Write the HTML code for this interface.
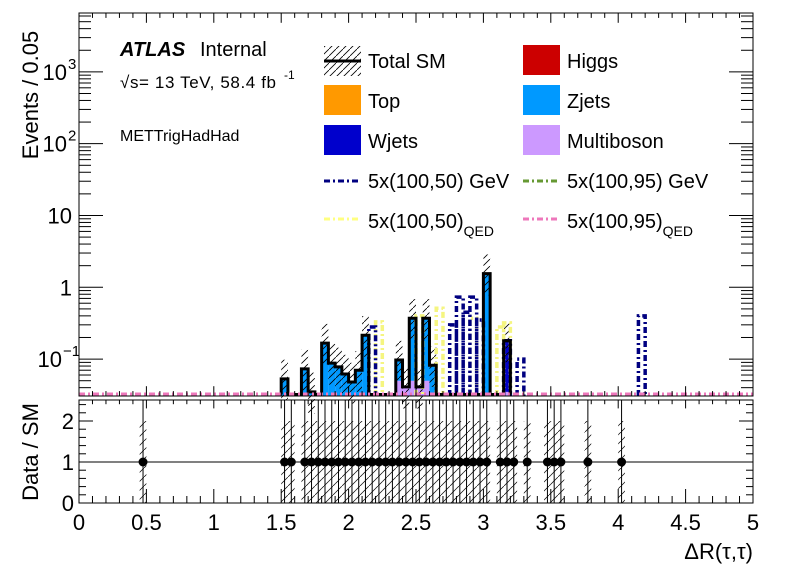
<!DOCTYPE html>
<html><head><meta charset="utf-8"><style>
html,body{margin:0;padding:0;background:#fff;}
svg{display:block;font-family:"Liberation Sans",Arial,sans-serif;}
</style></head><body>
<svg id="c" width="796" height="572" viewBox="0 0 796 572">
<defs>
<pattern id="hatch" patternUnits="userSpaceOnUse" width="7" height="7">
<line x1="0" y1="7" x2="7" y2="0" stroke="#000" stroke-width="0.8"/>
</pattern>
<pattern id="hatch2" patternUnits="userSpaceOnUse" width="9" height="9">
<line x1="0" y1="9" x2="9" y2="0" stroke="#000" stroke-width="0.7"/>
</pattern>
</defs>
<g id="main"></g>
<g id="ratio"></g>
<g id="axes"></g>
<text transform="rotate(-90 31 95)" x="31" y="102" font-size="22" text-anchor="middle">Events / 0.05</text>
<text transform="rotate(-90 31 452)" x="31" y="459" font-size="22" text-anchor="middle">Data / SM</text>
<text x="753" y="559" font-size="22" text-anchor="end">ΔR(τ,τ)</text>
<g>
<text x="120" y="56" font-size="20" font-weight="bold" font-style="italic">ATLAS</text>
<text x="200" y="56" font-size="20">Internal</text>
<text x="120" y="88" font-size="17" textLength="156">√s= 13 TeV, 58.4 fb</text>
<text x="284" y="79" font-size="12">-1</text>
<text x="120" y="141" font-size="16">METTrigHadHad</text>
</g>
<g id="legend" font-size="20">
<g><rect x="324" y="46" width="37" height="30" fill="url(#hatch)"/><line x1="324" y1="61" x2="361" y2="61" stroke="#000" stroke-width="3"/><text x="368" y="68">Total SM</text></g>
<g><rect x="523" y="45" width="37" height="30" fill="#cc0000"/><text x="567" y="68">Higgs</text></g>
<g><rect x="324" y="85" width="37" height="30" fill="#ff9900"/><text x="368" y="108">Top</text></g>
<g><rect x="523" y="85" width="37" height="30" fill="#0099ff"/><text x="567" y="108">Zjets</text></g>
<g><rect x="324" y="125" width="37" height="30" fill="#0000cc"/><text x="368" y="148">Wjets</text></g>
<g><rect x="523" y="125" width="37" height="30" fill="#cc99ff"/><text x="567" y="148">Multiboson</text></g>
<g><line x1="324" y1="181" x2="358" y2="181" stroke="#000080" stroke-width="3" stroke-dasharray="6,3,2,3"/><text x="368" y="188">5x(100,50) GeV</text></g>
<g><line x1="523" y1="181" x2="557" y2="181" stroke="#669933" stroke-width="3" stroke-dasharray="6,3,2,3"/><text x="567" y="188">5x(100,95) GeV</text></g>
<g><line x1="324" y1="219" x2="358" y2="219" stroke="#ffff80" stroke-width="3" stroke-dasharray="6,3,2,3"/><text x="368" y="228">5x(100,50)<tspan font-size="14" dy="8">QED</tspan></text></g>
<g><line x1="523" y1="219" x2="557" y2="219" stroke="#ee77bb" stroke-width="3" stroke-dasharray="6,3,2,3"/><text x="567" y="228">5x(100,95)<tspan font-size="14" dy="8">QED</tspan></text></g>
</g>
</svg>
<script>
// contiguous bins starting at 1.50, width 0.05
const binStart = 1.50;
const totalSM =    [0.053,0,0,0.073,0.035,0,0.167,0.088,0.078,0.062,0.048,0.070,0.215,0,0,0,0,0.097,0.041,0.37,0.041,0.37,0.082,0,0,0,0,0,0,0,1.55,0,0,0.18];
const multiboson = [0,0,0,0,0,0,0,0,0,0,0,0,0,0,0,0,0,0.05,0.041,0.05,0.041,0.05,0,0,0,0,0,0,0,0,0,0,0,0.035];
const wjets =      [0,0,0,0,0,0,0,0,0,0,0,0,0,0,0,0,0,0,0,0,0,0,0,0,0,0,0,0,0,0,0,0,0,0.18];
const sig5050Low = [2.15,2.75,2.80,2.85,2.90,2.95,3.15,3.25,4.15];
const sig5050 = [0.28,0.30,0.73,0.45,0.73,0.35,0.18,0.10,0.40];
const sigQEDLow = [2.20,2.50,2.65,2.90,3.10,3.15];
const sigQED = [0.33,0.40,0.51,0.37,0.28,0.32];
const dataX = [0.475,1.525,1.575,1.675,1.725,1.775,1.825,1.875,1.925,1.975,2.025,2.075,2.125,2.175,2.225,2.275,2.325,2.375,2.425,2.475,2.525,2.575,2.625,2.675,2.725,2.775,2.825,2.875,2.925,2.975,3.025,3.125,3.175,3.225,3.325,3.475,3.525,3.575,3.775,4.025];
const ratioVal = [1,1,1,1,1,1,1,1,1,1,1,1,1,1,1,1,1,1,1,1,1,1,1,1,1,1,1,1,1,1,1,1,1,1,1,1,1,1,1,1];
const xTicks = [0,0.5,1,1.5,2,2.5,3,3.5,4,4.5,5];
const xTickLabels = ["0","0.5","1","1.5","2","2.5","3","3.5","4","4.5","5"];

const NS="http://www.w3.org/2000/svg";
const X0=79,X1=753,T=13,B=396,RT=400,RB=503;
const yMin=-1.514, yMax=3.82;
function sx(v){return X0+(v/5)*(X1-X0);}
function sy(v){return v<=0?B:B-(Math.log10(v)-yMin)/(yMax-yMin)*(B-T);}
function ry(v){return RB-v*41;}
function el(tag,attrs,parent){const e=document.createElementNS(NS,tag);for(const k in attrs)e.setAttribute(k,attrs[k]);parent.appendChild(e);return e;}
const main=document.getElementById('main'),ratio=document.getElementById('ratio'),axes=document.getElementById('axes');
const W=0.05;
totalSM.forEach((tot,i)=>{
  if(tot<=0)return;
  const lo=binStart+i*W;
  const x=sx(lo),w=sx(lo+W)-x;
  const mb=Math.min(multiboson[i],tot),wj=Math.min(wjets[i],tot);
  let r=el('rect',{x:x,y:sy(tot),width:w,height:B-sy(tot),fill:'#0099ff'},main);
  
  
  if(wj>0){let q=el('rect',{x:x,y:sy(wj),width:w,height:B-sy(wj),fill:'#0000cc'},main);
    
    }
  if(mb>0){let q=el('rect',{x:x,y:sy(mb),width:w,height:B-sy(mb),fill:'#cc99ff'},main);
    
    }
  let h=el('rect',{x:x,y:sy(tot*1.85),width:w,height:sy(tot*0.5)-sy(tot*1.85),fill:'url(#hatch)'},main);
  
  
});
function sigHist(lows,vals,color,name){
  let d='';
  lows.forEach((lo,i)=>{const x0=sx(lo),x1=sx(lo+W),y=sy(vals[i]);
    d+=' M'+x0+' '+B+' L'+x0+' '+y+' L'+x1+' '+y+' L'+x1+' '+B;});
  let p=el('path',{d:d,fill:'none',stroke:color,'stroke-width':3.5,'stroke-dasharray':'6,3,2,3'},main);
  
  
}
sigHist(sigQEDLow,sigQED,'#f5f580','signal-100-50-qed-line');
sigHist(sig5050Low,sig5050,'#000080','signal-100-50-line');
(function(){
  let d='M'+sx(binStart)+' '+(B-1.5);
  totalSM.forEach((v,i)=>{const x0=sx(binStart+i*W),x1=sx(binStart+(i+1)*W);const y=v>0?sy(v):B-1.5;
    d+=' L'+x0+' '+y+' L'+x1+' '+y;});
  d+=' L'+sx(binStart+totalSM.length*W)+' '+(B-1.5);
  let p=el('path',{d:d,fill:'none',stroke:'#000','stroke-width':3,'stroke-linejoin':'miter'},main);
  
  
})();
let pk=el('line',{x1:X0,y1:B-1.5,x2:X1,y2:B-1.5,stroke:'#ee77bb','stroke-width':4,'stroke-dasharray':'6,3,2,3'},main);


dataX.forEach((v,i)=>{
  const x=sx(v),x0=sx(v-0.025),w=sx(v+0.025)-x0;
  let h=el('rect',{x:x0,y:ry(2),width:w,height:ry(0)-ry(2),fill:'url(#hatch2)'},ratio);
  
  
  let l=el('line',{x1:x,y1:RT,x2:x,y2:RB,stroke:'#000','stroke-width':1},ratio);
  
  
});
let one=el('line',{x1:X0,y1:ry(1),x2:X1,y2:ry(1),stroke:'#000','stroke-width':1},ratio);


dataX.forEach((v,i)=>{
  let c=el('circle',{cx:sx(v),cy:ry(ratioVal[i]),r:4.5,fill:'#000'},ratio);
  
  
});
let f1=el('rect',{x:X0,y:T,width:X1-X0,height:B-T,fill:'none',stroke:'#000','stroke-width':1},axes);


let f2=el('rect',{x:X0,y:RT,width:X1-X0,height:RB-RT,fill:'none',stroke:'#000','stroke-width':1},axes);


for(let k=0;k<=50;k++){const v=k*0.1,x=sx(v),major=k%5===0;const L=major?14:7;
  el('line',{x1:x,y1:RB,x2:x,y2:RB-L,stroke:'#000'},axes);
  el('line',{x1:x,y1:RT,x2:x,y2:RT+L*0.6,stroke:'#000'},axes);
  el('line',{x1:x,y1:B,x2:x,y2:B-L*0.7,stroke:'#000'},axes);
  el('line',{x1:x,y1:T,x2:x,y2:T+L*0.7,stroke:'#000'},axes);
}
xTicks.forEach((v,i)=>{let t=el('text',{x:sx(v),y:530,'font-size':22,'text-anchor':'middle'},axes);t.textContent=xTickLabels[i];
  
  });
for(let e=-2;e<=3;e++){for(let m=1;m<=9;m++){const v=m*Math.pow(10,e);const y=sy(v);if(y<T||y>B)continue;const L=m===1?24:12;
  el('line',{x1:X0,y1:y,x2:X0+L,y2:y,stroke:'#000'},axes);
  el('line',{x1:X1,y1:y,x2:X1-L,y2:y,stroke:'#000'},axes);}}
const yLab=[[-1,'10',"−1",62],[0,'1','',72],[1,'10','',72],[2,'10','2',67],[3,'10','3',67]];
yLab.forEach(a=>{const y=sy(Math.pow(10,a[0]));let t=el('text',{x:a[3],y:y+8,'font-size':22,'text-anchor':'end'},axes);
  t.textContent=a[1];
  
  
  if(a[2]){let s=el('text',{x:a[3]+1,y:y-3,'font-size':15,'text-anchor':'start'},axes);s.textContent=a[2];}});
for(let v=0;v<=2.4;v+=0.2){const y=ry(v),L=Math.abs(v-Math.round(v))<0.01?14:7;
  el('line',{x1:X0,y1:y,x2:X0+L,y2:y,stroke:'#000'},axes);
  el('line',{x1:X1,y1:y,x2:X1-L,y2:y,stroke:'#000'},axes);}
[0,1,2].forEach(v=>{let t=el('text',{x:74,y:ry(v)+8,'font-size':22,'text-anchor':'end'},axes);t.textContent=String(v);
  
  });
</script>
</body></html>
